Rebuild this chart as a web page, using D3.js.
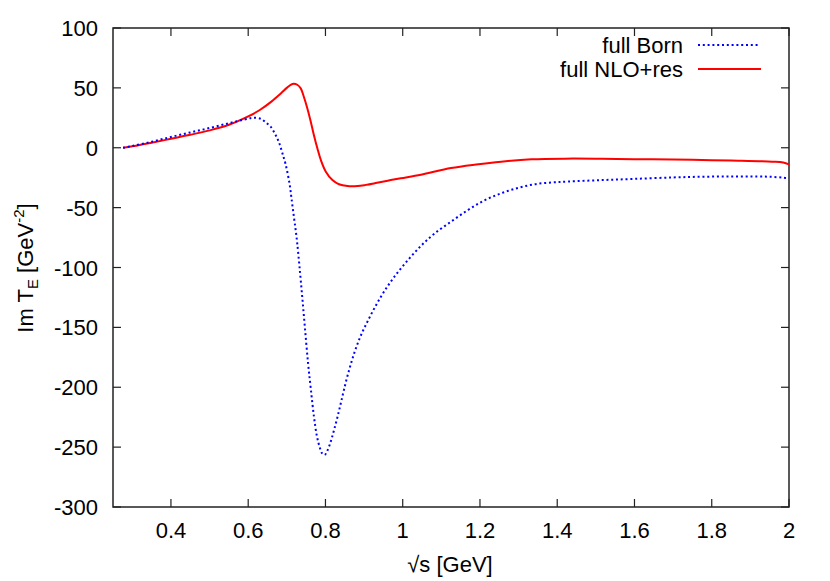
<!DOCTYPE html>
<html>
<head>
<meta charset="UTF-8">
<script src="https://d3js.org/d3.v7.min.js"></script>
<style>
  body { margin: 0; background: #fff; }
  svg { font-family: "Liberation Sans", Arial, Helvetica, sans-serif; }
</style>
</head>
<body>
<svg id="chart" width="830" height="581"></svg>
<script>
  // sqrt(s) in GeV, Im T_E in GeV^-2
  var bornX = [0.276, 0.3, 0.35, 0.4, 0.45, 0.5, 0.55, 0.59, 0.612, 0.632, 0.645, 0.658, 0.671, 0.679, 0.688, 0.697,
    0.707, 0.712, 0.718, 0.723, 0.727, 0.733, 0.74, 0.747, 0.755, 0.762, 0.77, 0.778, 0.786, 0.792, 0.798,
    0.805, 0.814, 0.822, 0.831, 0.84, 0.848, 0.86, 0.874, 0.89, 0.909, 0.93, 0.952, 0.98, 1.013, 1.047, 1.081,
    1.125, 1.169, 1.211, 1.255, 1.299, 1.341, 1.385, 1.429, 1.515, 1.6, 1.7, 1.775, 1.85, 1.92, 1.956, 1.985, 2.0];
  var bornY = [0, 1.5, 5, 9, 12.8, 16.5, 20.5, 23.6, 25, 24.2, 21.3, 17.6, 10.6, 5.1, -4, -14,
    -30, -42, -57, -69, -80, -100, -125, -151, -180, -201, -224, -241, -251, -255.5, -256.5,
    -253, -245, -236, -225, -213, -202, -187, -172, -158, -145, -132, -120, -107, -94, -82, -72,
    -61.7, -52, -44, -38, -33.5, -30.5, -29, -28.2, -27, -26, -24.8, -24.2, -24, -24, -24.3, -25, -25.5];

  var nloX = [0.276, 0.3, 0.35, 0.4, 0.45, 0.5, 0.55, 0.6, 0.63, 0.66, 0.685, 0.7, 0.71, 0.718, 0.727, 0.736,
    0.744, 0.753, 0.762, 0.77, 0.779, 0.788, 0.801, 0.818, 0.835, 0.857, 0.883, 0.905, 0.93, 0.961, 0.995,
    1.047, 1.125, 1.19, 1.255, 1.333, 1.42, 1.515, 1.6, 1.7, 1.775, 1.85, 1.956, 1.985, 2.0];
  var nloY = [0, 1.2, 4.2, 7.5, 10.8, 14.5, 19.2, 26.2, 31.5, 38.5, 45.5, 50, 52.6, 53.5, 52.6, 49.6,
    42.6, 33, 21.8, 10.6, -0.5, -10.2, -20, -27, -30.5, -32, -32, -31, -29.5, -27.5, -25.5,
    -22.5, -17, -14, -11.6, -9.7, -9.1, -9.2, -9.5, -9.9, -10.2, -10.7, -11.6, -12.3, -13.9];

  var xTicks = [0.4, 0.6, 0.8, 1, 1.2, 1.4, 1.6, 1.8, 2];
  var yTicks = [100, 50, 0, -50, -100, -150, -200, -250, -300];

  var svg = d3.select("#chart");
  var pLeft = 113, pRight = 789, pTop = 28, pBottom = 507;
  var fontSize = 22;

  var x = d3.scaleLinear().domain([0.25, 2]).range([pLeft, pRight]);
  var y = d3.scaleLinear().domain([-300, 100]).range([pBottom, pTop]);

  var tickLen = 8;
  var axisColor = "#222";

  // x ticks, bottom and top, pointing inward
  svg.append("g").selectAll("line").data(xTicks).enter().append("line")
    .attr("x1", d => x(d)).attr("x2", d => x(d))
    .attr("y1", pBottom).attr("y2", pBottom - tickLen)
    .attr("stroke", axisColor).attr("stroke-width", 1.2);
  svg.append("g").selectAll("line").data(xTicks).enter().append("line")
    .attr("x1", d => x(d)).attr("x2", d => x(d))
    .attr("y1", pTop).attr("y2", pTop + tickLen)
    .attr("stroke", axisColor).attr("stroke-width", 1.2);

  svg.append("g").selectAll("text").data(xTicks).enter().append("text")
    .attr("x", d => x(d)).attr("y", 538)
    .attr("text-anchor", "middle").attr("font-size", fontSize)
    .text(d => d);

  // y ticks, left and right
  svg.append("g").selectAll("line").data(yTicks).enter().append("line")
    .attr("x1", pLeft).attr("x2", pLeft + tickLen)
    .attr("y1", d => y(d)).attr("y2", d => y(d))
    .attr("stroke", axisColor).attr("stroke-width", 1.2);
  svg.append("g").selectAll("line").data(yTicks).enter().append("line")
    .attr("x1", pRight).attr("x2", pRight - tickLen)
    .attr("y1", d => y(d)).attr("y2", d => y(d))
    .attr("stroke", axisColor).attr("stroke-width", 1.2);

  svg.append("g").selectAll("text").data(yTicks).enter().append("text")
    .attr("x", 98).attr("y", d => y(d) + 8)
    .attr("text-anchor", "end").attr("font-size", fontSize)
    .text(d => d);

  // frame
  svg.append("rect")
    .attr("x", pLeft).attr("y", pTop)
    .attr("width", pRight - pLeft).attr("height", pBottom - pTop)
    .attr("fill", "none").attr("stroke", axisColor).attr("stroke-width", 1.5);

  // curves
  var line = d3.line()
    .x(d => x(d[0])).y(d => y(d[1]))
    .curve(d3.curveCatmullRom.alpha(0.5));

  svg.append("path")
    .datum(nloX.map((v, i) => [v, nloY[i]]))
    .attr("d", line)
    .attr("fill", "none").attr("stroke", "#ff0000").attr("stroke-width", 2);

  svg.append("path")
    .datum(bornX.map((v, i) => [v, bornY[i]]))
    .attr("d", line)
    .attr("fill", "none").attr("stroke", "#0000ff").attr("stroke-width", 2)
    .attr("stroke-dasharray", "2,2.8");

  // legend
  var legend = svg.append("g");
  legend.append("text").attr("x", 683).attr("y", 53)
    .attr("text-anchor", "end").attr("font-size", fontSize).text("full Born");
  legend.append("line").attr("x1", 698).attr("x2", 759).attr("y1", 45).attr("y2", 45)
    .attr("stroke", "#0000ff").attr("stroke-width", 2).attr("stroke-dasharray", "2,2.8");
  legend.append("text").attr("x", 683).attr("y", 77)
    .attr("text-anchor", "end").attr("font-size", fontSize).text("full NLO+res");
  legend.append("line").attr("x1", 698).attr("x2", 761).attr("y1", 69).attr("y2", 69)
    .attr("stroke", "#ff0000").attr("stroke-width", 2);

  // axis titles
  svg.append("text")
    .attr("x", 450).attr("y", 572)
    .attr("text-anchor", "middle").attr("font-size", fontSize)
    .text("\u221As [GeV]");

  var yt = svg.append("text")
    .attr("transform", "translate(33,268) rotate(-90)")
    .attr("text-anchor", "middle").attr("font-size", fontSize);
  yt.append("tspan").text("Im T");
  yt.append("tspan").attr("dy", 5).attr("font-size", 15).text("E");
  yt.append("tspan").attr("dy", -5).text(" [GeV");
  yt.append("tspan").attr("dy", -9).attr("font-size", 15).text("-2");
  yt.append("tspan").attr("dy", 9).text("]");
</script>
</body>
</html>
